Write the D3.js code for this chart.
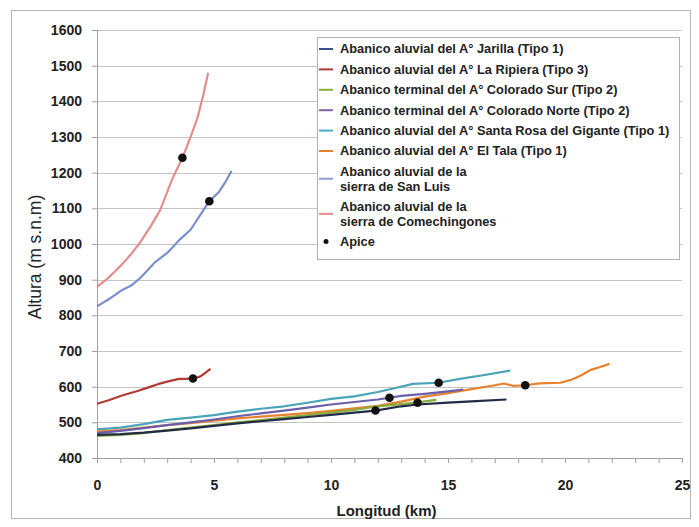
<!DOCTYPE html>
<html>
<head>
<meta charset="utf-8">
<script src="https://cdn.jsdelivr.net/npm/d3@7"></script>
<style>
  body { margin: 0; background: #fff; }
  text { font-family: "Liberation Sans", Arial, sans-serif; }
</style>
</head>
<body>
<div id="chart"></div>
<script>
// series names, as in the legend
var seriesNames = [
  "Abanico aluvial del A° Jarilla (Tipo 1)",
  "Abanico aluvial del A° La Ripiera (Tipo 3)",
  "Abanico terminal del A° Colorado Sur (Tipo 2)",
  "Abanico terminal del A° Colorado Norte (Tipo 2)",
  "Abanico aluvial del A° Santa Rosa del Gigante (Tipo 1)",
  "Abanico aluvial del A° El Tala (Tipo 1)",
  "Abanico aluvial de la\nsierra de San Luis",
  "Abanico aluvial de la\nsierra de Comechingones"
];

// longitud (km) / altura (m) for each profile
var jarillaKm  = [0, 1, 2, 3, 4, 5, 6, 7, 8, 9, 10, 11, 11.9, 13, 13.7, 15, 16, 17.5];
var jarillaAlt = [465, 467, 471, 477, 483, 490, 497, 503, 509, 515, 521, 527, 533, 545, 550, 555, 559, 564];

var ripieraKm  = [0, 0.5, 1.1, 1.7, 2.2, 2.6, 3.0, 3.5, 3.8, 4.1, 4.4, 4.6, 4.85];
var ripieraAlt = [552, 562, 576, 587, 598, 607, 614, 622, 622, 623, 628, 637, 650];

var surKm  = [0, 1, 2, 3, 4, 5, 6, 7, 8, 9, 10, 11, 12, 13, 13.7, 14.5];
var surAlt = [462, 465, 470, 478, 485, 492, 500, 506, 513, 520, 527, 535, 545, 551, 556, 563];

var norteKm  = [0, 1, 2, 3, 4, 5, 6, 7, 8, 9, 10, 11, 12, 12.5, 13, 14, 15, 15.65];
var norteAlt = [470, 476, 484, 492, 500, 508, 517, 525, 533, 541, 550, 557, 564, 569, 574, 580, 587, 592];

var santaRosaKm  = [0, 1, 2, 3, 4, 5, 6, 7, 8, 9, 10, 11, 12, 12.8, 13.5, 14.6, 15.5, 16.5, 17.65];
var santaRosaAlt = [480, 485, 495, 507, 513, 520, 530, 538, 545, 555, 566, 573, 585, 597, 608, 611, 622, 632, 645];

var talaKm  = [0, 1, 2, 3, 4, 5, 6, 7, 8, 9, 10, 11, 12, 13, 14, 15, 16, 17, 17.4, 17.8, 18.3, 18.9, 19.8, 20.3, 20.7, 21.1, 21.5, 21.9];
var talaAlt = [474, 478, 485, 492, 498, 505, 511, 516, 521, 526, 532, 539, 546, 558, 572, 582, 593, 604, 609, 602, 604, 609, 611, 620, 632, 647, 655, 664];

var sanLuisKm  = [0, 0.5, 1.0, 1.5, 1.9, 2.5, 3.0, 3.5, 4.0, 4.5, 4.8, 5.2, 5.5, 5.75];
var sanLuisAlt = [825, 845, 868, 885, 908, 950, 975, 1010, 1040, 1090, 1120, 1145, 1175, 1205];

var comechKm  = [0, 0.4, 0.8, 1.1, 1.5, 1.85, 2.3, 2.7, 3.2, 3.65, 4.0, 4.3, 4.55, 4.75];
var comechAlt = [880, 900, 925, 945, 975, 1005, 1050, 1095, 1180, 1242, 1300, 1355, 1420, 1480];

// apex points
var apiceKm  = [3.65, 4.8, 4.1, 11.9, 12.5, 13.7, 14.6, 18.3];
var apiceAlt = [1242, 1120, 623, 533, 569, 555, 611, 604];

// axis ticks
var yTicks = [400, 500, 600, 700, 800, 900, 1000, 1100, 1200, 1300, 1400, 1500, 1600];
var xTicks = [0, 5, 10, 15, 20, 25];

var seriesKm  = [jarillaKm, ripieraKm, surKm, norteKm, santaRosaKm, talaKm, sanLuisKm, comechKm];
var seriesAlt = [jarillaAlt, ripieraAlt, surAlt, norteAlt, santaRosaAlt, talaAlt, sanLuisAlt, comechAlt];

var colors = ["#222b45", "#b23c33", "#8aab3e", "#6b5fab", "#4aa3b8", "#e8812e", "#7b8fcc", "#e38d8d"];
var legendColors = ["#3b4f8a", "#b23c33", "#8aab3e", "#8064a2", "#4aacc6", "#e8812e", "#8f9fd4", "#e38d8d"];

// manually set margins
var margin = {top: 30, right: 17, bottom: 69, left: 97},
    width = 699 - margin.left - margin.right,
    height = 527 - margin.top - margin.bottom;

var x = d3.scaleLinear().domain([0, 25]).range([0, width]);
var y = d3.scaleLinear().domain([400, 1600]).range([height, 0]);

var svg = d3.select("#chart")
  .append("svg")
    .attr("width", 699)
    .attr("height", 527);

// outer frame
svg.append("rect")
    .attr("x", 11.5).attr("y", 10.5)
    .attr("width", 679).attr("height", 508)
    .attr("fill", "none")
    .attr("stroke", "#b5b5b5");

var g = svg.append("g")
    .attr("transform", "translate(" + margin.left + "," + margin.top + ")");

// gridlines
g.selectAll(".grid")
    .data(yTicks.slice(1))
  .enter().append("line")
    .attr("x1", 0).attr("x2", width)
    .attr("y1", function(d) { return Math.round(y(d)) + 0.5; })
    .attr("y2", function(d) { return Math.round(y(d)) + 0.5; })
    .attr("stroke", "#c4c4c4")
    .attr("stroke-width", 1.2);

// y axis
var yAxis = g.append("g")
    .call(d3.axisLeft(y).tickValues(yTicks).tickSize(5).tickPadding(10)
      .tickFormat(d3.format("d")));

// x axis: minor ticks every km, labels every 5
var xAxis = g.append("g")
    .attr("transform", "translate(0," + height + ")")
    .call(d3.axisBottom(x).tickValues(d3.range(0, 26)).tickSize(5).tickPadding(17)
      .tickFormat(function(d) { return xTicks.indexOf(d) >= 0 ? d : ""; }));

[yAxis, xAxis].forEach(function(a) {
  a.select(".domain").attr("stroke", "#a0a0a0");
  a.selectAll(".tick line").attr("stroke", "#a0a0a0");
  a.selectAll(".tick text")
    .attr("fill", "#222")
    .style("font-size", "14px")
    .style("font-weight", "bold")
    .style("font-family", "'Liberation Sans', Arial, sans-serif");
});

// axis titles
svg.append("text")
    .attr("x", margin.left + width / 2 - 3)
    .attr("y", 516)
    .attr("text-anchor", "middle")
    .style("font-size", "15px")
    .style("font-weight", "bold")
    .attr("fill", "#222")
    .text("Longitud (km)");

svg.append("text")
    .attr("transform", "translate(41,257) rotate(-90)")
    .attr("text-anchor", "middle")
    .style("font-size", "17.5px")
    .attr("fill", "#222")
    .text("Altura (m s.n.m)");

// profile lines
var line = d3.line()
    .x(function(d) { return x(d[0]); })
    .y(function(d) { return y(d[1]); });

var order = [7, 6, 1, 4, 5, 3, 2, 0];
order.forEach(function(i) {
  var pts = seriesKm[i].map(function(k, j) { return [k, seriesAlt[i][j]]; });
  g.append("path")
      .datum(pts)
      .attr("fill", "none")
      .attr("stroke", colors[i])
      .attr("stroke-width", 2.2)
      .attr("stroke-linejoin", "round")
      .attr("d", line);
});

// apex dots
g.selectAll(".apice")
    .data(apiceKm)
  .enter().append("circle")
    .attr("cx", function(d) { return x(d); })
    .attr("cy", function(d, i) { return y(apiceAlt[i]); })
    .attr("r", 4.3)
    .attr("fill", "#111");

// legend
var legend = svg.append("g");
legend.append("rect")
    .attr("x", 317.5).attr("y", 37.5)
    .attr("width", 362).attr("height", 222)
    .attr("fill", "#fff")
    .attr("stroke", "#b0b0b0");

var ly = 49;
seriesNames.forEach(function(name, i) {
  var lines = name.split("\n");
  var mid = ly + (lines.length - 1) * 14.7 / 2;
  legend.append("line")
      .attr("x1", 319).attr("x2", 333)
      .attr("y1", mid).attr("y2", mid)
      .attr("stroke", legendColors[i])
      .attr("stroke-width", 2);
  lines.forEach(function(t, j) {
    legend.append("text")
        .attr("x", 340)
        .attr("y", ly + j * 14.7)
        .attr("dy", "0.35em")
        .style("font-size", "12.8px")
        .style("font-weight", "bold")
        .attr("fill", "#222")
        .text(t);
  });
  ly += 20.4 + (lines.length - 1) * 14.7;
});

legend.append("circle")
    .attr("cx", 326).attr("cy", ly)
    .attr("r", 2.5)
    .attr("fill", "#111");
legend.append("text")
    .attr("x", 340).attr("y", ly)
    .attr("dy", "0.35em")
    .style("font-size", "12.8px")
    .style("font-weight", "bold")
    .attr("fill", "#222")
    .text("Apice");
</script>
</body>
</html>
